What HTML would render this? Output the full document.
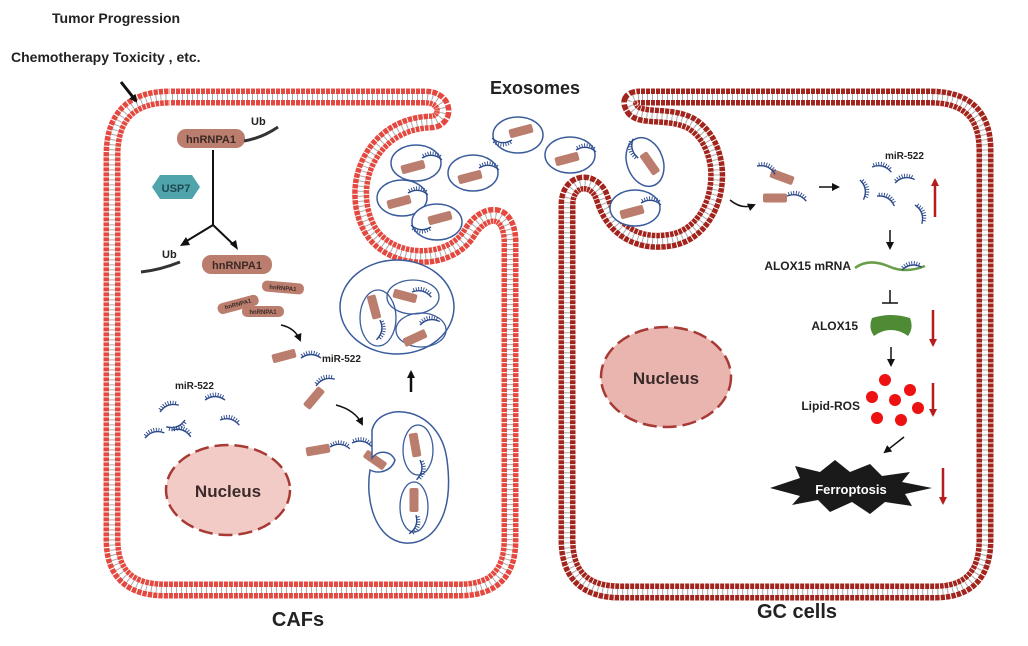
<!DOCTYPE html>
<html><head><meta charset="utf-8"><style>
html,body{margin:0;padding:0;background:#fff}
svg{display:block}
text{font-family:"Liberation Sans",Arial,sans-serif;font-weight:bold}
</style></head><body>
<svg width="1028" height="646" viewBox="0 0 1028 646" xmlns="http://www.w3.org/2000/svg">
<defs>
<g id="m"><path d="M0,0 Q10,-7 20,0" fill="none" stroke="#2b4a8c" stroke-width="1.4"/><path d="M1,-2 Q10,-9 19,-2" fill="none" stroke="#2b4a8c" stroke-width="4" stroke-dasharray="0.9 1.6"/></g>
<rect id="p" x="-12" y="-4.5" width="24" height="9" rx="2" fill="#bb7e6e"/>
<g id="ex"><ellipse cx="0" cy="0" rx="25" ry="18" fill="#fff" stroke="#3b5c9c" stroke-width="1.5"/><use href="#p" transform="translate(-3,4) rotate(-15)"/><use href="#m" transform="translate(6,-5) rotate(5)"/></g>
<marker id="a" markerWidth="8" markerHeight="8" refX="6" refY="4" orient="auto" markerUnits="userSpaceOnUse"><path d="M0,0 L8,4 L0,8 Z" fill="#111"/></marker>
<marker id="r" markerWidth="8" markerHeight="8" refX="6" refY="4" orient="auto" markerUnits="userSpaceOnUse"><path d="M0,0 L8,4 L0,8 Z" fill="#b51d1d"/></marker>
<path id="LP" d="M170,97 L425,97 C448,97 448,122 430,122 C372,124 345,185 370,230 C390,264 450,266 470,232 C482,212 508,205 510,240 L510,540 Q510,590 460,590 L165,590 Q112,590 112,540 L112,155 Q112,97 170,97 Z"/>
<path id="RP" d="M640,97 L930,97 Q985,97 985,150 L985,540 Q985,592 935,592 L620,592 Q567,592 567,540 L567,205 C567,178 595,176 602,198 C612,232 640,246 672,240 C722,230 732,150 692,124 C672,112 642,120 633,110 C626,100 632,97 640,97 Z"/>
</defs>

<!-- membranes -->
<g fill="none">
<use href="#LP" stroke="#e4483f" stroke-width="17"/>
<use href="#LP" stroke="#fff" stroke-width="17" stroke-dasharray="1 4"/>
<use href="#LP" stroke="#fff" stroke-width="6"/>
<use href="#LP" stroke="#aaa" stroke-width="6" stroke-dasharray="1 4" stroke-dashoffset="-2"/>
<use href="#RP" stroke="#a3241c" stroke-width="17"/>
<use href="#RP" stroke="#fff" stroke-width="17" stroke-dasharray="1 4"/>
<use href="#RP" stroke="#fff" stroke-width="6"/>
<use href="#RP" stroke="#aaa" stroke-width="6" stroke-dasharray="1 4" stroke-dashoffset="-2"/>
</g>

<!-- labels -->
<text x="52" y="23" font-size="14" fill="#222">Tumor Progression</text>
<text x="11" y="62" font-size="14" fill="#222">Chemotherapy  Toxicity , etc.</text>
<line x1="121" y1="82" x2="136" y2="101" stroke="#111" stroke-width="3" marker-end="url(#a)"/>
<text x="535" y="94" font-size="18" text-anchor="middle" fill="#222">Exosomes</text>
<text x="298" y="626" font-size="20" text-anchor="middle" fill="#222">CAFs</text>
<text x="797" y="618" font-size="20" text-anchor="middle" fill="#222">GC cells</text>

<!-- exosomes -->
<use href="#ex" transform="translate(416,163)"/>
<use href="#ex" transform="translate(402,198)"/>
<use href="#ex" transform="translate(437,222) rotate(180)"/>
<use href="#ex" transform="translate(473,173)"/>
<use href="#ex" transform="translate(518,135) rotate(180)"/>
<use href="#ex" transform="translate(570,155)"/>
<use href="#ex" transform="translate(645,162) rotate(-110)"/>
<use href="#ex" transform="translate(635,208)"/>

<!-- left cell contents -->
<rect x="177" y="129" width="68" height="19" rx="9" fill="#bb7e6e"/>
<text x="211" y="143" font-size="11" text-anchor="middle" fill="#3a2a25">hnRNPA1</text>
<text x="251" y="125" font-size="11" fill="#222">Ub</text>
<path d="M244,141 Q262,138 278,127" stroke="#333" stroke-width="3" fill="none"/>
<polygon points="152,187 160,175 192,175 200,187 192,199 160,199" fill="#4fa4ac"/>
<text x="176" y="192" font-size="11" text-anchor="middle" fill="#1d4a50">USP7</text>
<path d="M213,150 L213,225 L185,242 M213,225 L235,246" stroke="#111" stroke-width="2" fill="none"/>
<path d="M186,237 L180,246 L190,245 Z M230,244 L238,250 L236,240 Z" fill="#111"/>
<text x="162" y="258" font-size="11" fill="#222">Ub</text>
<path d="M141,272 Q160,270 180,262" stroke="#333" stroke-width="3" fill="none"/>
<rect x="202" y="255" width="70" height="19" rx="9" fill="#bb7e6e"/>
<text x="237" y="269" font-size="11" text-anchor="middle" fill="#3a2a25">hnRNPA1</text>
<g font-size="6" fill="#3a2a25">
<rect x="217" y="299" width="42" height="11" rx="5" fill="#bb7e6e" transform="rotate(-15 238 304)"/>
<text x="238" y="306" text-anchor="middle" transform="rotate(-15 238 304)">hnRNPA1</text>
<rect x="262" y="282" width="42" height="11" rx="5" fill="#bb7e6e" transform="rotate(5 283 287)"/>
<text x="283" y="290" text-anchor="middle" transform="rotate(5 283 287)">hnRNPA1</text>
<rect x="242" y="306" width="42" height="11" rx="5" fill="#bb7e6e"/>
<text x="263" y="314" text-anchor="middle">hnRNPA1</text>
</g>
<path d="M281,325 Q295,328 300,340" stroke="#111" stroke-width="1.5" fill="none" marker-end="url(#a)"/>
<use href="#p" transform="translate(284,356) rotate(-15)"/>
<use href="#m" transform="translate(301,358)"/>
<text x="322" y="362" font-size="10" font-weight="normal" fill="#222">miR-522</text>
<text x="175" y="389" font-size="10" font-weight="normal" fill="#222">miR-522</text>
<use href="#m" transform="translate(160,412) rotate(-20)"/>
<use href="#m" transform="translate(205,400)"/>
<use href="#m" transform="translate(185,420) rotate(160)"/>
<use href="#m" transform="translate(220,420) rotate(15)"/>
<use href="#m" transform="translate(145,438) rotate(-15)"/>
<use href="#m" transform="translate(172,430) rotate(20)"/>
<use href="#p" transform="translate(314,398) rotate(-50)"/>
<use href="#m" transform="translate(316,386) rotate(-20)"/>
<path d="M336,405 Q355,410 362,424" stroke="#111" stroke-width="1.5" fill="none" marker-end="url(#a)"/>
<use href="#p" transform="translate(318,450) rotate(-10)"/>
<use href="#m" transform="translate(330,447) rotate(5)"/>
<use href="#m" transform="translate(352,443) rotate(10)"/>
<use href="#p" transform="translate(375,460) rotate(35)"/>
<line x1="411" y1="392" x2="411" y2="372" stroke="#111" stroke-width="2.5" marker-end="url(#a)"/>
<ellipse cx="228" cy="490" rx="62" ry="45" fill="#f3cbc6" stroke="#a83a35" stroke-width="2.5" stroke-dasharray="14 6"/>
<text x="228" y="497" font-size="17" text-anchor="middle" fill="#3a2a2a">Nucleus</text>
<!-- MVB -->
<ellipse cx="397" cy="307" rx="57" ry="47" fill="#fff" stroke="#3b5c9c" stroke-width="1.5"/>
<ellipse cx="378" cy="318" rx="18" ry="28" fill="none" stroke="#3b5c9c" stroke-width="1.3"/>
<use href="#p" transform="translate(374,307) rotate(75)"/>
<use href="#m" transform="translate(380,320) rotate(100)"/>
<ellipse cx="413" cy="297" rx="26" ry="17" fill="none" stroke="#3b5c9c" stroke-width="1.3"/>
<use href="#p" transform="translate(405,296) rotate(15)"/>
<use href="#m" transform="translate(412,292) rotate(15)"/>
<ellipse cx="421" cy="330" rx="25" ry="17" fill="none" stroke="#3b5c9c" stroke-width="1.3"/>
<use href="#p" transform="translate(415,338) rotate(-25)"/>
<use href="#m" transform="translate(420,325) rotate(-10)"/>
<!-- budding vesicle -->
<path d="M372,430 C380,400 440,405 447,460 C455,520 430,545 405,543 C375,540 365,500 370,470 C380,475 392,470 395,460 C390,450 378,450 372,458 Z" fill="#fff" stroke="#3b5c9c" stroke-width="1.5"/>
<ellipse cx="418" cy="450" rx="15" ry="25" fill="none" stroke="#3b5c9c" stroke-width="1.3"/>
<use href="#p" transform="translate(415,445) rotate(80)"/>
<use href="#m" transform="translate(420,460) rotate(100)"/>
<ellipse cx="414" cy="507" rx="14" ry="25" fill="none" stroke="#3b5c9c" stroke-width="1.3"/>
<use href="#p" transform="translate(414,500) rotate(90)"/>
<use href="#m" transform="translate(416,515) rotate(110)"/>

<!-- right cell contents -->
<ellipse cx="666" cy="377" rx="65" ry="50" fill="#e9b5ae" stroke="#a83a35" stroke-width="2.5" stroke-dasharray="14 6"/>
<text x="666" y="384" font-size="17" text-anchor="middle" fill="#3a2a2a">Nucleus</text>
<path d="M730,200 Q742,210 754,205" stroke="#111" stroke-width="1.5" fill="none" marker-end="url(#a)"/>
<use href="#p" transform="translate(782,177) rotate(20)"/>
<use href="#m" transform="translate(757,166) rotate(25)"/>
<use href="#p" transform="translate(775,198)"/>
<use href="#m" transform="translate(787,196) rotate(15)"/>
<line x1="819" y1="187" x2="838" y2="187" stroke="#111" stroke-width="1.5" marker-end="url(#a)"/>
<text x="885" y="159" font-size="10" font-weight="normal" fill="#222">miR-522</text>
<use href="#m" transform="translate(872,167) rotate(15)"/>
<use href="#m" transform="translate(895,183) rotate(-10)"/>
<use href="#m" transform="translate(860,180) rotate(80)"/>
<use href="#m" transform="translate(877,196) rotate(30)"/>
<use href="#m" transform="translate(915,205) rotate(70)"/>
<line x1="935" y1="217" x2="935" y2="180" stroke="#b51d1d" stroke-width="2.5" marker-end="url(#r)"/>
<line x1="890" y1="230" x2="890" y2="248" stroke="#111" stroke-width="1.5" marker-end="url(#a)"/>
<text x="851" y="270" font-size="12" text-anchor="end" fill="#222">ALOX15 mRNA</text>
<path d="M855,268 Q868,258 888,266 Q905,274 925,266" stroke="#6a9e4a" stroke-width="2.5" fill="none"/>
<use href="#m" transform="translate(902,270) rotate(-8)"/>
<path d="M890,290 L890,303 M882,303 L898,303" stroke="#111" stroke-width="1.5"/>
<text x="858" y="330" font-size="12" text-anchor="end" fill="#222">ALOX15</text>
<path d="M872,318 Q891,312 910,318 Q914,328 908,336 Q900,330 891,330 Q882,330 874,336 Q868,328 872,318 Z" fill="#4f8a35"/>
<line x1="933" y1="310" x2="933" y2="345" stroke="#b51d1d" stroke-width="2.5" marker-end="url(#r)"/>
<line x1="891" y1="347" x2="891" y2="365" stroke="#111" stroke-width="1.5" marker-end="url(#a)"/>
<text x="860" y="410" font-size="12" text-anchor="end" fill="#222">Lipid-ROS</text>
<g fill="#ee1111"><circle cx="885" cy="380" r="6"/><circle cx="910" cy="390" r="6"/><circle cx="872" cy="397" r="6"/><circle cx="895" cy="400" r="6"/><circle cx="918" cy="408" r="6"/><circle cx="877" cy="418" r="6"/><circle cx="901" cy="420" r="6"/></g>
<line x1="933" y1="383" x2="933" y2="415" stroke="#b51d1d" stroke-width="2.5" marker-end="url(#r)"/>
<line x1="904" y1="437" x2="885" y2="452" stroke="#111" stroke-width="1.5" marker-end="url(#a)"/>
<polygon points="770,488 800,478 795,466 820,472 835,460 850,472 870,464 882,476 910,472 902,482 932,488 905,494 912,506 885,502 870,514 852,502 830,512 818,500 792,505 800,496" fill="#1a1a1a"/>
<text x="851" y="494" font-size="13" text-anchor="middle" fill="#fff">Ferroptosis</text>
<line x1="943" y1="468" x2="943" y2="503" stroke="#b51d1d" stroke-width="2.5" marker-end="url(#r)"/>
</svg>
</body></html>
